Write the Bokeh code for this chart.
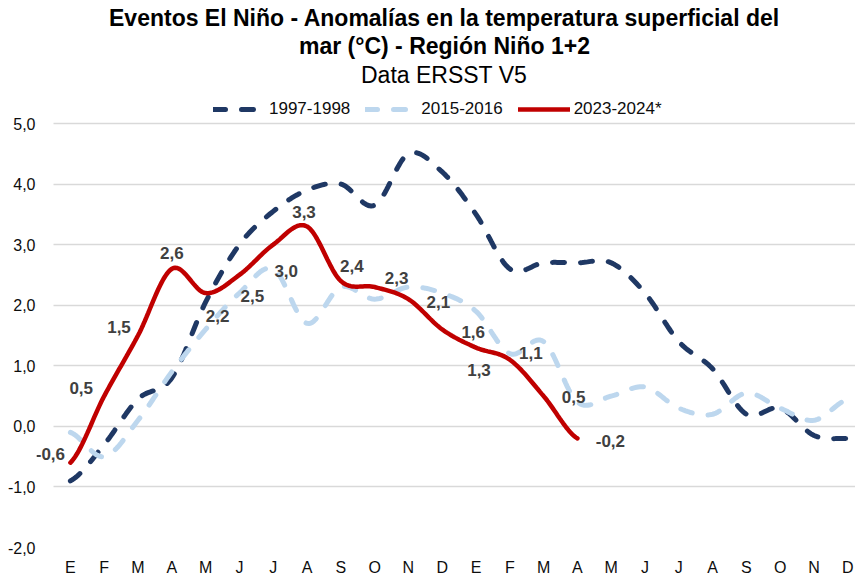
import numpy as np
from bokeh.plotting import figure
from bokeh.models import (ColumnDataSource, FixedTicker, Legend, LegendItem,
                          Title, Range1d, LabelSet, BoxAnnotation)
from bokeh.core.properties import value
from bokeh.embed import file_html
from bokeh.resources import INLINE

# ---------------- data ----------------
months = ["E", "F", "M", "A", "M", "J", "J", "A", "S", "O", "N", "D",
          "E", "F", "M", "A", "M", "J", "J", "A", "S", "O", "N", "D"]
y_ticks = [-2, -1, 0, 1, 2, 3, 4, 5]
y_tick_labels = ["-2,0", "-1,0", "0,0", "1,0", "2,0", "3,0", "4,0", "5,0"]

series_names = ["1997-1998", "2015-2016", "2023-2024*"]
s1997 = [-0.9, -0.3, 0.45, 0.8, 2.05, 3.0, 3.55, 3.9, 4.0, 3.65, 4.5, 4.2,
         3.5, 2.6, 2.7, 2.7, 2.7, 2.2, 1.4, 0.95, 0.2, 0.3, -0.15, -0.2]
s2015 = [-0.1, -0.5, 0.1, 0.9, 1.6, 2.2, 2.6, 1.7, 2.3, 2.1, 2.3, 2.2,
         1.9, 1.2, 1.4, 0.4, 0.5, 0.65, 0.3, 0.2, 0.55, 0.3, 0.1, 0.45]
s2023 = [-0.6, 0.5, 1.5, 2.6, 2.2, 2.5, 3.0, 3.3, 2.4, 2.3, 2.1, 1.6,
         1.3, 1.1, 0.5, -0.2]
s2023_labels = ["-0,6", "0,5", "1,5", "2,6", "2,2", "2,5", "3,0", "3,3", "2,4",
                "2,3", "2,1", "1,6", "1,3", "1,1", "0,5", "-0,2"]

title_1 = "Eventos El Niño - Anomalías en la temperatura superficial del"
title_2 = "mar (°C) - Región Niño 1+2"
subtitle = "Data ERSST V5"

# ---------------- styling / layout ----------------
FONT = "Liberation Sans"
C_DARK = "#1F3864"
C_LIGHT = "#BDD7EE"
C_RED = "#C00000"
FRAME_LEFT = 36
FRAME_TOP = 88
PX = 33.8                                      # px per month
X0 = -0.5 - (53 - FRAME_LEFT) / PX             # frame starts left of grid
X1 = X0 + (855 - FRAME_LEFT) / PX
Y_TOP = 7 * (547 - FRAME_TOP) / 424 - 2        # headroom for the legend
# label offsets in screen pixels (dx right, dy down)
lab_dx = [-20, -23, -19, 0, 12, 13, 13, -3, 11, 22, 30, 31, 3, 21, 30, 33]
lab_dy = [-9, -8, -9, -16, 23, 21, 26, -14, -15, -9, 3, 3, 22, -7, 1, 3]


def smooth(vals, n=20):
    """Catmull-Rom style smoothing (like a spreadsheet 'smoothed line')."""
    v = np.asarray(vals, dtype=float)
    m = len(v)
    xs, ys = [], []
    for i in range(m - 1):
        p0 = v[i - 1] if i > 0 else v[i]
        p1, p2 = v[i], v[i + 1]
        p3 = v[i + 2] if i + 2 < m else v[i + 1]
        c1 = p1 + (p2 - p0) / 6.0
        c2 = p2 - (p3 - p1) / 6.0
        t = np.linspace(0, 1, n, endpoint=(i == m - 2))
        b = ((1 - t) ** 3 * p1 + 3 * (1 - t) ** 2 * t * c1
             + 3 * (1 - t) * t ** 2 * c2 + t ** 3 * p2)
        xs.extend(list(i + t))
        ys.extend(list(b))
    return xs, ys


p = figure(width=855, height=578, output_backend="svg", toolbar_location=None,
           x_range=Range1d(X0, X1), y_range=Range1d(-2, Y_TOP),
           min_border_left=FRAME_LEFT, min_border_right=0,
           min_border_bottom=31, min_border_top=FRAME_TOP)
p.outline_line_color = None
p.background_fill_color = "white"
p.border_fill_color = "white"

p.xgrid.grid_line_color = None
p.ygrid.grid_line_color = "#D9D9D9"
p.ygrid.grid_line_width = 1.3
p.ygrid.ticker = FixedTicker(ticks=y_ticks)

p.yaxis.ticker = FixedTicker(ticks=y_ticks)
p.yaxis.major_label_overrides = {t: l for t, l in zip(y_ticks, y_tick_labels)}
p.xaxis.ticker = FixedTicker(ticks=list(range(len(months))))
p.xaxis.major_label_overrides = {i: m for i, m in enumerate(months)}
for ax in (p.xaxis, p.yaxis):
    ax.axis_line_color = None
    ax.major_tick_line_color = None
    ax.minor_tick_line_color = None
    ax.major_tick_out = 0
    ax.major_tick_in = 0
    ax.minor_tick_out = 0
    ax.minor_tick_in = 0
    ax.major_label_text_font = FONT
    ax.major_label_text_font_size = "16px"
    ax.major_label_text_color = "#0d0d0d"
p.yaxis.major_label_standoff = 1
p.xaxis.major_label_standoff = 11

# white band hiding the grid left of the first month (plot-area margin)
p.add_layout(BoxAnnotation(right=-0.5, fill_color="white", fill_alpha=1,
                           line_color=None, level="underlay"))

x97, y97 = smooth(s1997)
x15, y15 = smooth(s2015)
x23, y23 = smooth(s2023)

r97 = p.line(x97, y97, line_color=C_DARK, line_width=5, line_dash="12 16",
             line_cap="round")
r15 = p.line(x15, y15, line_color=C_LIGHT, line_width=5, line_dash="12 16",
             line_cap="round")
r23 = p.line(x23, y23, line_color=C_RED, line_width=4.5, line_cap="round")

lab_src = ColumnDataSource(dict(x=list(range(len(s2023))), y=s2023,
                                t=s2023_labels, dx=lab_dx,
                                dy=[-d for d in lab_dy]))
labels = LabelSet(x="x", y="y", text="t", x_offset="dx", y_offset="dy",
                  source=lab_src, text_align="center", text_baseline="middle",
                  text_font=value(FONT), text_font_size="17px",
                  text_font_style="bold", text_color="#404040")
p.add_layout(labels)

legend = Legend(items=[LegendItem(label=series_names[0], renderers=[r97]),
                       LegendItem(label=series_names[1], renderers=[r15]),
                       LegendItem(label=series_names[2], renderers=[r23])],
                orientation="horizontal", location=(213 - FRAME_LEFT, 428),
                border_line_color=None, background_fill_alpha=0,
                label_text_font=FONT, label_text_font_size="17px",
                label_text_color="#0d0d0d",
                glyph_width=52, glyph_height=20, label_standoff=4,
                spacing=15, padding=2, margin=0)
p.add_layout(legend, "center")

# titles: (text, left x in px, style, standoff, line height)
title_specs = [(title_1, 108.5, "bold", 0, 1.0),
               (title_2, 298.5, "bold", 0, 1.0),
               (subtitle, 360.5, "normal", 2, 1.2)]
for txt, left, style, so, lh in reversed(title_specs):
    p.add_layout(Title(text=txt, align="left", offset=left - FRAME_LEFT,
                       text_font=FONT, text_font_size="23px",
                       text_font_style=style, text_line_height=lh,
                       text_color="black", standoff=so), "above")

open("out.html", "w").write(file_html(p, INLINE))
